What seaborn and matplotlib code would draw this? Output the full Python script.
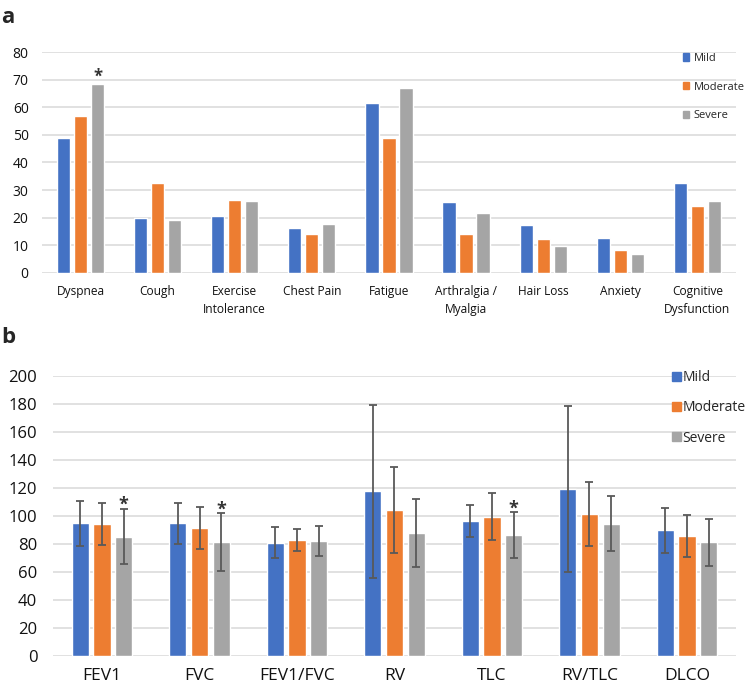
import numpy as np
import pandas as pd
import matplotlib
matplotlib.use("Agg")
import matplotlib.pyplot as plt
import seaborn as sns
from matplotlib.patches import Patch

# ---------------- data ----------------
groups = ["Mild", "Moderate", "Severe"]
colors = ["#4472C4", "#ED7D31", "#A5A5A5"]

symptoms = ["Dyspnea", "Cough", "Exercise\nIntolerance", "Chest Pain", "Fatigue",
            "Arthralgia /\nMyalgia", "Hair Loss", "Anxiety", "Cognitive\nDysfunction"]
sym_mild = [48.8, 19.7, 20.7, 16.1, 61.5, 25.5, 17.2, 12.7, 32.4]
sym_moderate = [57.0, 32.6, 26.4, 14.2, 49.0, 14.2, 12.1, 8.1, 24.3]
sym_severe = [68.5, 19.1, 25.9, 17.7, 66.9, 21.8, 9.6, 6.7, 25.9]
sym_star = [(0, "Severe")]

pft = ["FEV1", "FVC", "FEV1/FVC", "RV", "TLC", "RV/TLC", "DLCO"]
pft_mild = [94.7, 94.7, 80.8, 117.5, 96.3, 119.1, 89.7]
pft_moderate = [94.2, 91.3, 82.8, 104.2, 99.2, 101.1, 85.8]
pft_severe = [85.1, 81.1, 81.8, 87.8, 86.1, 94.4, 81.1]
pft_mild_sd = [16.1, 14.8, 11.0, 61.6, 11.3, 59.3, 15.9]
pft_moderate_sd = [15.1, 14.7, 7.9, 31.0, 16.8, 22.8, 15.1]
pft_severe_sd = [19.8, 20.6, 10.8, 24.0, 16.3, 19.6, 16.9]
pft_star = [(0, "Severe"), (1, "Severe"), (4, "Severe")]

df_a = pd.DataFrame({
    "cat": symptoms * 3,
    "group": sum([[g] * len(symptoms) for g in groups], []),
    "val": sym_mild + sym_moderate + sym_severe,
})
df_b = pd.DataFrame({
    "cat": pft * 3,
    "group": sum([[g] * len(pft) for g in groups], []),
    "val": pft_mild + pft_moderate + pft_severe,
    "sd": pft_mild_sd + pft_moderate_sd + pft_severe_sd,
})

# ---------------- style ----------------
sns.set_style("white")
plt.rcParams["font.family"] = ["Open Sans", "DejaVu Sans"]
grid_c = "#D9D9D9"
text_c = "#111111"

fig = plt.figure(figsize=(7.49, 6.91), dpi=100)
ax_a = fig.add_axes([0.056, 0.6054, 0.9266, 0.319])
ax_b = fig.add_axes([0.0712, 0.0507, 0.911, 0.4056])

pal = dict(zip(groups, colors))

# ---------------- panel a ----------------
sns.barplot(data=df_a, x="cat", y="val", hue="group", hue_order=groups,
            order=symptoms, palette=pal, width=0.662, gap=0.22,
            errorbar=None, ax=ax_a, legend=False, saturation=1, zorder=3)
ax_a.set_ylim(0, 80)
ax_a.set_yticks(np.arange(0, 81, 10))
ax_a.set_xlim(-0.5, len(symptoms) - 0.5)
ax_a.grid(axis="y", color=grid_c, lw=1.1, zorder=0)
ax_a.set_axisbelow(True)
for s in ax_a.spines.values():
    s.set_visible(False)
ax_a.tick_params(axis="both", length=0, colors=text_c)
ax_a.tick_params(axis="y", labelsize=10, pad=9.5)
ax_a.tick_params(axis="x", labelsize=8.6, pad=9)
ax_a.set_xlabel("")
ax_a.set_ylabel("")
for lbl in ax_a.get_xticklabels():
    lbl.set_linespacing(1.5)

nA = len(symptoms)
vals_a = {"Mild": sym_mild, "Moderate": sym_moderate, "Severe": sym_severe}
for (ci, g) in sym_star:
    p = ax_a.patches[groups.index(g) * nA + ci]
    xc = p.get_x() + p.get_width() / 2
    ax_a.text(xc, vals_a[g][ci] - 0.5, "*", ha="center", va="bottom",
              fontsize=12, fontweight="bold", color="#333333")

ax_a.legend(handles=[Patch(color=c, label=g) for g, c in zip(groups, colors)],
            loc="upper left", bbox_to_anchor=(0.923, 0.997), frameon=False,
            handlelength=0.6, handleheight=0.6, handletextpad=0.4,
            labelspacing=1.6, fontsize=8.0, borderaxespad=0, borderpad=0)

# ---------------- panel b ----------------
sns.barplot(data=df_b, x="cat", y="val", hue="group", hue_order=groups,
            order=pft, palette=pal, width=0.668, gap=0.21,
            errorbar=None, ax=ax_b, legend=False, saturation=1, zorder=3)
ax_b.set_ylim(0, 200)
ax_b.set_yticks(np.arange(0, 201, 20))
ax_b.set_xlim(-0.5, len(pft) - 0.5)
ax_b.grid(axis="y", color=grid_c, lw=1.1, zorder=0)
ax_b.set_axisbelow(True)
for s in ax_b.spines.values():
    s.set_visible(False)
ax_b.tick_params(axis="both", length=0, colors=text_c)
ax_b.tick_params(axis="y", labelsize=12, pad=11.5)
ax_b.tick_params(axis="x", labelsize=12.5, pad=9)
ax_b.set_xlabel("")
ax_b.set_ylabel("")

nB = len(pft)
vals_b = {"Mild": pft_mild, "Moderate": pft_moderate, "Severe": pft_severe}
sds_b = {"Mild": pft_mild_sd, "Moderate": pft_moderate_sd, "Severe": pft_severe_sd}
for gi, g in enumerate(groups):
    xs = [ax_b.patches[gi * nB + i].get_x() + ax_b.patches[gi * nB + i].get_width() / 2
          for i in range(nB)]
    ax_b.errorbar(xs, vals_b[g], yerr=sds_b[g], fmt="none", ecolor="#595959",
                  elinewidth=1.3, capsize=3, capthick=1.3, zorder=4)
for (ci, g) in pft_star:
    p = ax_b.patches[groups.index(g) * nB + ci]
    xc = p.get_x() + p.get_width() / 2
    ax_b.text(xc, vals_b[g][ci] + sds_b[g][ci] - 3.5, "*", ha="center", va="bottom",
              fontsize=13, fontweight="bold", color="#333333", zorder=5)

ax_b.legend(handles=[Patch(color=c, label=g) for g, c in zip(groups, colors)],
            loc="upper left", bbox_to_anchor=(0.906, 1.02), frameon=False,
            handlelength=0.65, handleheight=0.6, handletextpad=0.15,
            labelspacing=1.1, fontsize=10, borderaxespad=0, borderpad=0)

# panel letters
fig.text(0.002, 0.975, "a", fontsize=16, fontweight="bold", va="center", ha="left")
fig.text(0.002, 0.511, "b", fontsize=16, fontweight="bold", va="center", ha="left")

fig.savefig("out.png", dpi=100)
